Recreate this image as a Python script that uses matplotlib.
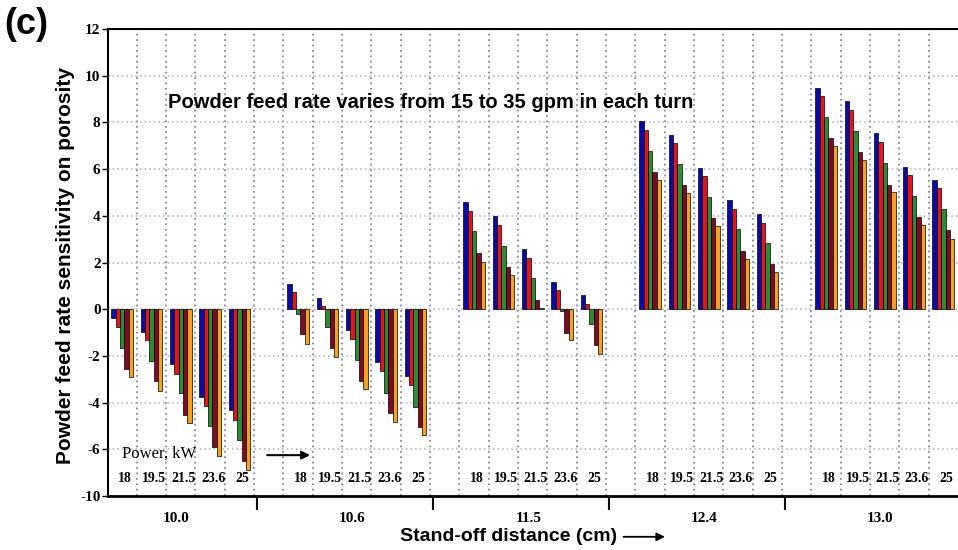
"""
Powder feed rate sensitivity on porosity, grouped by stand-off distance and power.
"""

import matplotlib

matplotlib.use("Agg")
import matplotlib.pyplot as plt
import numpy as np

# stand-off distance (cm) groups, laser power (kW) sub-groups, feed rate series (gpm)
distances = ["10.0", "10.6", "11.5", "12.4", "13.0"]
powers = ["18", "19.5", "21.5", "23.6", "25"]
feed_rates = [15, 20, 25, 30, 35]
bar_colors = ["#0a0aa8", "#e3141b", "#2f8a34", "#7d0c1e", "#f4a126"]

# rows = power, columns = feed rate
sens_10_0 = [
    [-0.36, -0.76, -1.65, -2.54, -2.90],
    [-0.96, -1.32, -2.23, -3.09, -3.49],
    [-2.34, -2.76, -3.59, -4.53, -4.86],
    [-3.74, -4.14, -4.99, -5.89, -6.28],
    [-4.31, -4.74, -5.60, -6.51, -6.87],
]
sens_10_6 = [
    [1.08, 0.72, -0.19, -1.08, -1.47],
    [0.50, 0.14, -0.75, -1.65, -2.04],
    [-0.91, -1.29, -2.18, -3.06, -3.42],
    [-2.27, -2.66, -3.59, -4.45, -4.84],
    [-2.87, -3.26, -4.17, -5.03, -5.39],
]
sens_11_5 = [
    [4.57, 4.19, 3.33, 2.41, 2.04],
    [4.00, 3.59, 2.70, 1.80, 1.47],
    [2.56, 2.20, 1.32, 0.40, 0.07],
    [1.18, 0.82, -0.07, -1.00, -1.34],
    [0.60, 0.24, -0.65, -1.54, -1.94],
]
sens_12_4 = [
    [8.05, 7.66, 6.78, 5.89, 5.53],
    [7.44, 7.10, 6.21, 5.32, 4.96],
    [6.06, 5.70, 4.81, 3.92, 3.55],
    [4.67, 4.31, 3.42, 2.51, 2.13],
    [4.09, 3.71, 2.82, 1.93, 1.58],
]
sens_13_0 = [
    [9.48, 9.12, 8.22, 7.33, 6.97],
    [8.91, 8.52, 7.64, 6.75, 6.38],
    [7.53, 7.14, 6.25, 5.34, 5.00],
    [6.11, 5.75, 4.86, 3.95, 3.62],
    [5.53, 5.17, 4.28, 3.38, 3.02],
]
all_sens = [sens_10_0, sens_10_6, sens_11_5, sens_12_4, sens_13_0]

ytick_vals = [-8, -6, -4, -2, 0, 2, 4, 6, 8, 10, 12]
ytick_labels = ["-10", "-6", "-4", "-2", "0", "2", "4", "6", "8", "10", "12"]

SERIF = "Liberation Serif"
SANS = "Liberation Sans"

n_pow = len(powers)
n_feed = len(feed_rates)
slots_per_group = n_pow + 1
n_slots = len(distances) * slots_per_group - 1
bar_w = 0.148

fig = plt.figure(figsize=(9.58, 5.5), dpi=100)
ax = fig.add_axes([107.5 / 958, 1 - 496 / 550, (958 - 107.5) / 958, 467 / 550])

# dotted grid
ax.vlines(np.arange(1, n_slots), -8, 12, colors="#858a9c", linestyles=(0, (1, 2)), lw=1.3, zorder=0)
ax.hlines(ytick_vals[1:-1], 0, n_slots, colors="#aab0c4", linestyles=(0, (1, 2)), lw=1.1, zorder=0)

for g, sens in enumerate(all_sens):
    for p in range(n_pow):
        slot = g * slots_per_group + p
        for f in range(n_feed):
            x = slot + 0.5 + (f - (n_feed - 1) / 2) * bar_w
            ax.bar(x, sens[p][f], width=bar_w, color=bar_colors[f],
                   edgecolor="black", linewidth=0.5, zorder=3)
        ax.text(slot + 0.6, -7.25, powers[p], ha="center", va="center",
                fontsize=10, fontweight="bold", family=SERIF)

ax.set_xlim(0, n_slots)
ax.set_ylim(-8, 12)
ax.set_yticks(ytick_vals)
ax.set_yticklabels(ytick_labels, fontsize=11, fontweight="bold", family=SERIF)
ax.tick_params(axis="y", direction="out", length=4, width=1, pad=1)

# group separators below the axis and group labels
sep = [g * slots_per_group - 0.9 for g in range(1, len(distances))]
ax.set_xticks(sep)
ax.set_xticklabels([])
ax.tick_params(axis="x", direction="out", length=10, width=1.5)
for g, d in enumerate(distances):
    center = g * slots_per_group + n_pow / 2 - 0.15
    ax.text(center, -8.95, d, ha="center", va="center", fontsize=11,
            fontweight="bold", family=SERIF)

for side in ["left", "top"]:
    ax.spines[side].set_linewidth(1.5)
ax.spines["bottom"].set_linewidth(2)
ax.spines["right"].set_visible(False)

ax.text(2.05, 8.85, "Powder feed rate varies from 15 to 35 gpm in each turn",
        ha="left", va="center", fontsize=14.5, fontweight="bold", family=SANS, zorder=5)
ax.text(0.5, -6.2, "Power, kW", ha="left", va="center", fontsize=12, family=SERIF)
ax.annotate("", xy=(7.0, -6.25), xytext=(5.35, -6.25),
            arrowprops=dict(arrowstyle="-|>", color="black", lw=1.5, mutation_scale=12))

fig.text(0.004, 0.955, "(c)", fontsize=26, fontweight="bold", family=SANS, va="center")
fig.text(0.068, 0.518, "Powder feed rate sensitivity on porosity", rotation=90,
         ha="center", va="center", fontsize=15, fontweight="bold", family=SANS)
fig.text(0.531, 0.024, "Stand-off distance (cm)", ha="center", va="center",
         fontsize=14, fontweight="bold", family=SANS)
fig.add_artist(matplotlib.patches.FancyArrowPatch((0.648, 0.024), (0.697, 0.024),
               transform=fig.transFigure, arrowstyle="-|>", mutation_scale=12,
               color="black", lw=1.3))

fig.savefig("out.png", dpi=100)
plt.close(fig)
